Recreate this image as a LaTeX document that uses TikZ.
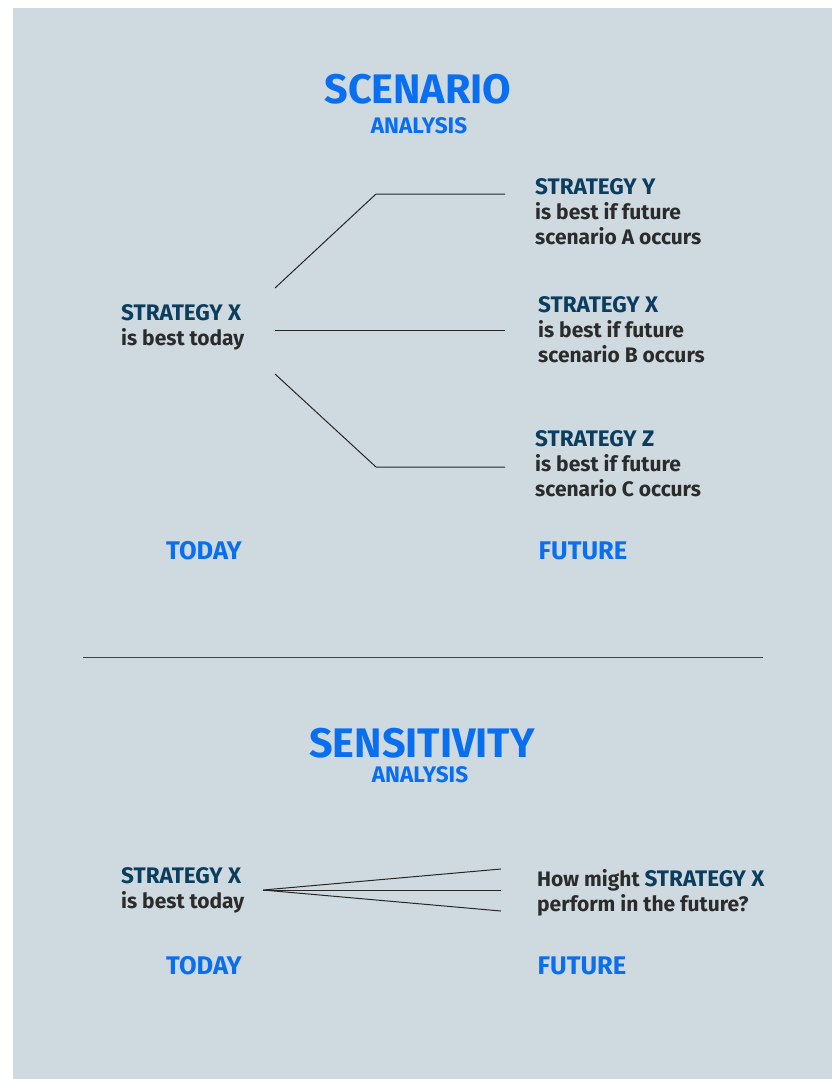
\documentclass[tikz,border=0pt]{standalone}
\usepackage{fontspec}
\setmainfont{Fira Sans}
\begin{document}
\definecolor{panel}{HTML}{CFDAE0}
\definecolor{titleblue}{HTML}{0A6EF0}
\definecolor{navy}{HTML}{0B3D5E}
\definecolor{bodygray}{HTML}{2B2B2B}
\begin{tikzpicture}[x=1pt,y=-1pt,
  title/.style={text=titleblue,font=\bfseries\fontsize{41.3}{41.3}\selectfont,inner sep=0pt},
  subtitle/.style={text=titleblue,font=\bfseries\fontsize{22.5}{22.5}\selectfont,inner sep=0pt},
  axislabel/.style={text=titleblue,font=\bfseries\fontsize{25.5}{25.5}\selectfont,inner sep=0pt},
  body/.style={text=bodygray,font=\bfseries\fontsize{21}{25}\selectfont,align=left,inner sep=0pt,anchor=base west},
  link/.style={draw=black!85,line width=1pt}]
\newcommand{\strat}[1]{\textcolor{navy}{\fontsize{22.5}{25}\selectfont #1}}
% page and panel
\useasboundingbox (0,0) rectangle (832,1079);
\fill[panel] (13,8) rectangle (832,1079);

% ---------- scenario analysis ----------
\node[title] (t1) at (418,89) {SCENARIO};
\node[subtitle] (s1) at (419,126) {ANALYSIS};

% text blocks are placed by the baseline of their last line
\node[body] (now1) at (121,345) {\strat{STRATEGY X}\\is best today};
\node[body] (fy) at (535,244) {\strat{STRATEGY Y}\\is best if future\\scenario A occurs};
\node[body] (fx) at (538,362) {\strat{STRATEGY X}\\is best if future\\scenario B occurs};
\node[body] (fz) at (535,496) {\strat{STRATEGY Z}\\is best if future\\scenario C occurs};

\coordinate (a0) at (275,288);
\coordinate (a1) at (376,194);
\coordinate (a2) at (505,194);
\coordinate (b0) at (275,330);
\coordinate (b2) at (505,330);
\coordinate (c0) at (275,374);
\coordinate (c1) at (376,467);
\coordinate (c2) at (505,467);
\draw[link] (a0) -- (a1) -- (a2);
\draw[link] (b0) -- (b2);
\draw[link] (c0) -- (c1) -- (c2);

\node[axislabel] (today1) at (204,551) {TODAY};
\node[axislabel] (future1) at (583,551) {FUTURE};

% divider
\coordinate (d0) at (83,657);
\coordinate (d1) at (763,657);
\draw[draw=black!75,line width=0.8pt] (d0) -- (d1);

% ---------- sensitivity analysis ----------
\node[title] (t2) at (422,743) {SENSITIVITY};
\node[subtitle] (s2) at (420,775) {ANALYSIS};

\node[body] (now2) at (121,908) {\strat{STRATEGY X}\\is best today};
\node[body] (q) at (537,911) {How might \strat{STRATEGY X}\\perform in the future?};

\coordinate (f0) at (263,890);
\coordinate (f1) at (501,869);
\coordinate (f2) at (501,890);
\coordinate (f3) at (501,911);
\draw[link] (f1) -- (f0) -- (f3);
\draw[link] (f0) -- (f2);

\node[axislabel] (today2) at (204,966) {TODAY};
\node[axislabel] (future2) at (582,966) {FUTURE};
\end{tikzpicture}
\end{document}
